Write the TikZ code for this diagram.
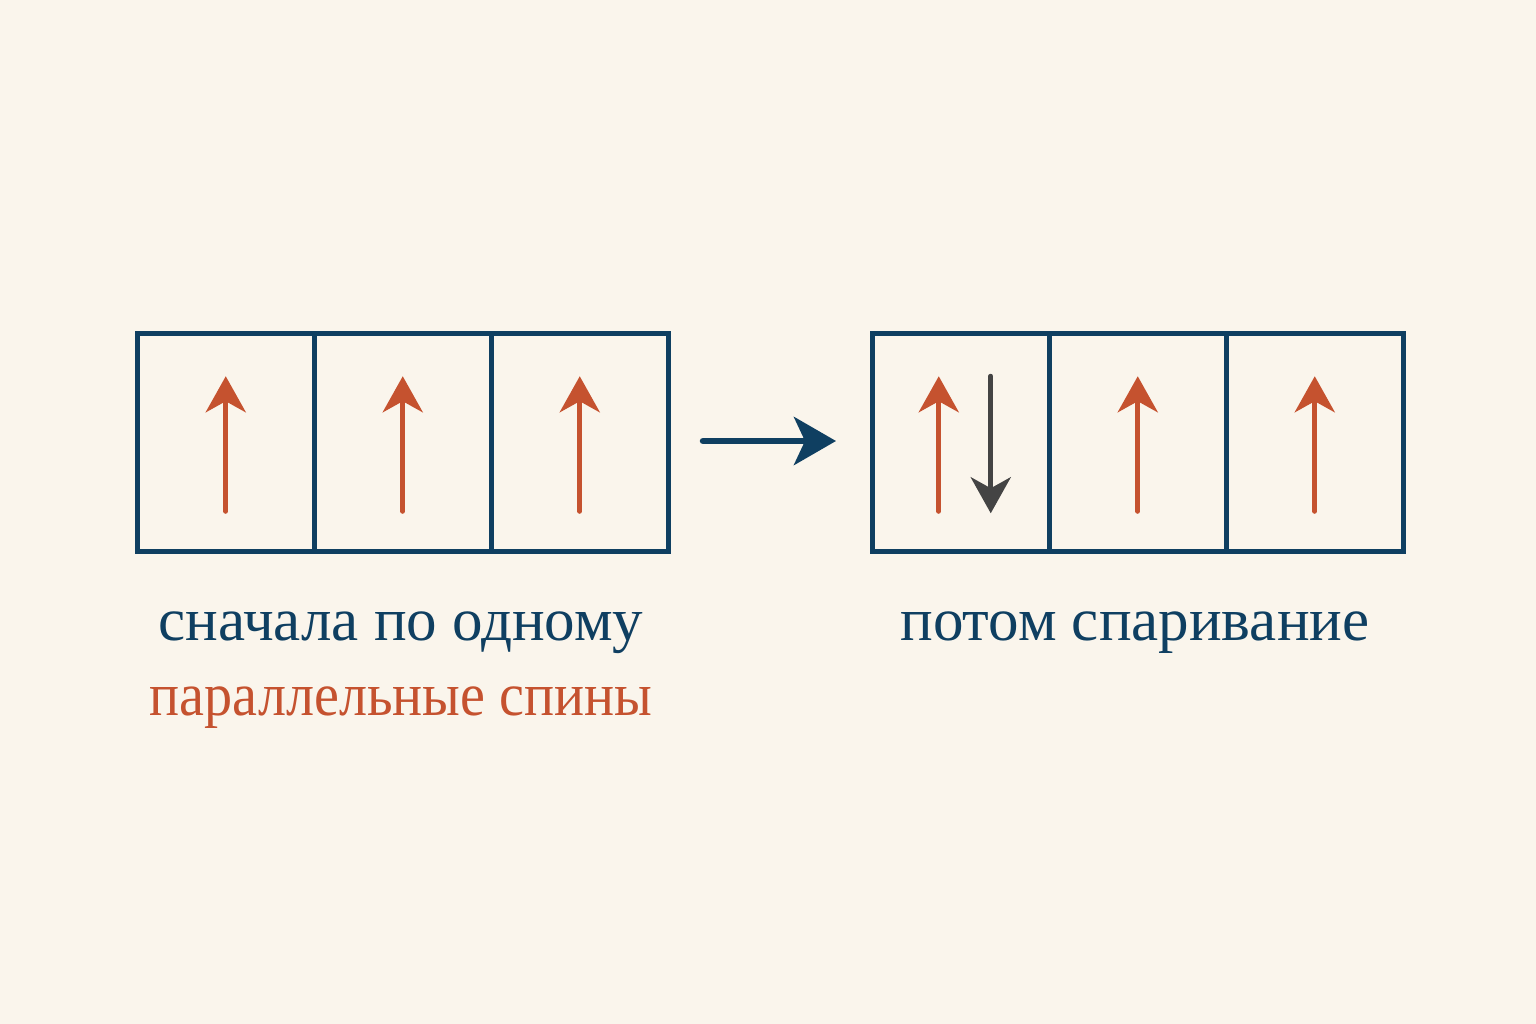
\documentclass[tikz,border=0pt]{standalone}
\usepackage{fontspec}
\setmainfont{Liberation Serif}
\usetikzlibrary{arrows.meta}
\definecolor{bgc}{HTML}{FAF5EC}
\definecolor{navy}{HTML}{0F3F61}
\definecolor{rust}{HTML}{C5522F}
\definecolor{darkg}{HTML}{444444}
\begin{document}
\begin{tikzpicture}[x=1pt,y=-1pt,
  cell/.style={draw=navy,line width=4.5pt,minimum width=177pt,minimum height=218pt,inner sep=0pt,anchor=north west},
  spinup/.style={draw=rust,line width=5pt,line cap=round,-{Stealth[length=36pt,width=40pt,inset=11pt]}},
  spindown/.style={draw=darkg,line width=5pt,line cap=round,-{Stealth[length=36pt,width=40pt,inset=11pt]}},
  mainarrow/.style={draw=navy,line width=6.5pt,line cap=round,-{Stealth[length=42pt,width=48pt,inset=11pt]}},
  lbl/.style={font=\fontsize{61}{72}\selectfont,anchor=base,inner sep=0pt}]
\fill[bgc] (0,0) rectangle (1536,1024);
\useasboundingbox (0,0) rectangle (1536,1024);
% left box
\node[cell] (l1) at (135,331) {};
\node[cell] (l2) at (312,331) {};
\node[cell] (l3) at (489,331) {};
% right box
\node[cell] (r1) at (870,331) {};
\node[cell] (r2) at (1047,331) {};
\node[cell] (r3) at (1224,331) {};
% spins left
\foreach \c in {l1,l2,l3}{
  \draw[spinup] ([yshift=-69pt]\c.center) -- ([yshift=66pt]\c.center);
}
% spins right
\draw[spinup] ([xshift=-22pt,yshift=-69pt]r1.center) -- ([xshift=-22pt,yshift=66pt]r1.center);
\draw[spindown] ([xshift=30pt,yshift=66pt]r1.center) -- ([xshift=30pt,yshift=-71pt]r1.center);
\draw[spinup] ([yshift=-69pt]r2.center) -- ([yshift=66pt]r2.center);
\draw[spinup] ([yshift=-69pt]r3.center) -- ([yshift=66pt]r3.center);
% main arrow
\coordinate (a1) at (703,441);
\coordinate (a2) at (836,441);
\draw[mainarrow] (a1) -- (a2);
% labels
\node[lbl,text=navy] (t1) at (401,640) {сначала по одному};
\node[lbl,text=rust] (t2) at (401,715) {\addfontfeature{FakeStretch=0.92}параллельные спины};
\node[lbl,text=navy] (t3) at (1135,640) {потом спаривание};
\end{tikzpicture}
\end{document}
